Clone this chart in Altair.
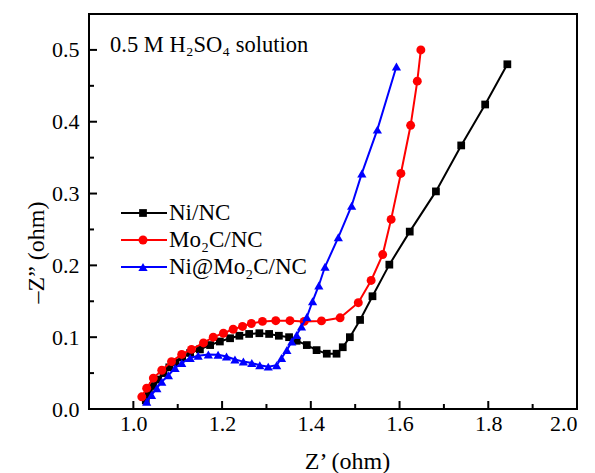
import altair as alt
import pandas as pd

# Nyquist data (Z' in ohm, -Z'' in ohm)
ni_x = [1.028, 1.035, 1.045, 1.056, 1.068, 1.081, 1.095, 1.110, 1.128, 1.150, 1.173, 1.195,
        1.218, 1.239, 1.261, 1.284, 1.306, 1.328, 1.351, 1.368, 1.391, 1.413, 1.436, 1.458,
        1.472, 1.488, 1.511, 1.539, 1.577, 1.623, 1.682, 1.739, 1.793, 1.843]
ni_y = [0.012, 0.022, 0.032, 0.041, 0.050, 0.058, 0.065, 0.072, 0.078, 0.083, 0.089, 0.094,
        0.0985, 0.102, 0.1045, 0.1055, 0.1045, 0.102, 0.100, 0.095, 0.089, 0.082, 0.077, 0.077,
        0.086, 0.100, 0.124, 0.157, 0.201, 0.247, 0.303, 0.367, 0.424, 0.480]

mo_x = [1.019, 1.030, 1.045, 1.064, 1.086, 1.109, 1.131, 1.158, 1.180, 1.203, 1.225, 1.246,
        1.266, 1.291, 1.321, 1.353, 1.385, 1.424, 1.466, 1.507, 1.536, 1.562, 1.581, 1.603,
        1.625, 1.640, 1.648]
mo_y = [0.017, 0.029, 0.043, 0.054, 0.066, 0.076, 0.083, 0.092, 0.100, 0.1055, 0.111, 0.115,
        0.119, 0.122, 0.123, 0.123, 0.122, 0.1227, 0.127, 0.148, 0.179, 0.215, 0.264, 0.328,
        0.395, 0.4565, 0.500]

nm_x = [1.030, 1.041, 1.053, 1.064, 1.079, 1.094, 1.109, 1.128, 1.146, 1.169, 1.191, 1.210,
        1.229, 1.248, 1.267, 1.285, 1.304, 1.323, 1.334, 1.346, 1.357, 1.368, 1.379, 1.391,
        1.404, 1.418, 1.432, 1.462, 1.492, 1.515, 1.550, 1.593]
nm_y = [0.010, 0.0195, 0.029, 0.038, 0.047, 0.057, 0.064, 0.071, 0.074, 0.076, 0.0755, 0.073,
        0.069, 0.066, 0.064, 0.061, 0.059, 0.061, 0.071, 0.082, 0.094, 0.103, 0.115, 0.128,
        0.150, 0.172, 0.198, 0.239, 0.283, 0.328, 0.389, 0.477]

series_names = ["Ni/NC", "Mo₂C/NC", "Ni@Mo₂C/NC"]
series_colors = ["#000000", "#ff0000", "#0000ff"]
series_shapes = ["square", "circle", "triangle-up"]
series_sizes = [60, 80, 85]

x_major = [1.0, 1.2, 1.4, 1.6, 1.8, 2.0]
x_minor = [1.1, 1.3, 1.5, 1.7, 1.9]
y_major = [0.0, 0.1, 0.2, 0.3, 0.4, 0.5]
y_minor = [0.05, 0.15, 0.25, 0.35, 0.45]

FONT = "Liberation Serif"
W, H = 488, 395

xs = [ni_x, mo_x, nm_x]
ys = [ni_y, mo_y, nm_y]

x_scale = alt.Scale(domain=[0.9, 2.0], nice=False, zero=False)
y_scale = alt.Scale(domain=[0.0, 0.55], nice=False, zero=False)

x_axis = alt.Axis(values=x_major, format=".1f", ticks=False, tickSize=0, domain=False, grid=False,
                  labelFont=FONT, labelFontSize=22, labelColor="#000", labelPadding=4,
                  title="Z’ (ohm)", titleFont=FONT, titleFontSize=24, titleFontWeight="normal",
                  titleColor="#000", titleX=258, titleY=52, titleBaseline="middle")
y_axis = alt.Axis(values=y_major, format=".1f", ticks=False, tickSize=0, domain=False, grid=False,
                  labelFont=FONT, labelFontSize=22, labelColor="#000", labelPadding=10,
                  title="–Z” (ohm)", titleFont=FONT, titleFontSize=24, titleFontWeight="normal",
                  titleColor="#000", titleAngle=270, titleX=-53, titleY=238,
                  titleBaseline="middle", titleAlign="center")

layers = []
for i, name in enumerate(series_names):
    df = pd.DataFrame({"x": xs[i], "y": ys[i], "i": list(range(len(xs[i])))})
    base = alt.Chart(df).encode(
        x=alt.X("x:Q", scale=x_scale, axis=x_axis),
        y=alt.Y("y:Q", scale=y_scale, axis=y_axis),
        order="i:Q",
    )
    layers.append(base.mark_line(color=series_colors[i], strokeWidth=2))
    layers.append(base.mark_point(shape=series_shapes[i], size=series_sizes[i], filled=True,
                                  color=series_colors[i], opacity=1))

# inward tick marks on bottom and left edges
def x_ticks(values, length):
    return alt.Chart(pd.DataFrame({"v": values})).mark_rule(color="#000", strokeWidth=2).encode(
        x=alt.X("v:Q", scale=x_scale), y=alt.value(H), y2=alt.value(H - length))

def y_ticks(values, length):
    return alt.Chart(pd.DataFrame({"v": values})).mark_rule(color="#000", strokeWidth=2).encode(
        y=alt.Y("v:Q", scale=y_scale), x=alt.value(0), x2=alt.value(length))

ticks = [x_ticks(x_major, 8), x_ticks(x_minor, 5), y_ticks(y_major, 8), y_ticks(y_minor, 5)]

# legend drawn as line + marker + label rows
legend = []
row_y = [199, 226, 253]
for i, name in enumerate(series_names):
    ldf = pd.DataFrame({"label": [name]})
    lc = alt.Chart(ldf)
    legend.append(lc.mark_rule(color=series_colors[i], strokeWidth=2).encode(
        x=alt.value(32), x2=alt.value(78), y=alt.value(row_y[i])))
    legend.append(lc.mark_point(shape=series_shapes[i], size=series_sizes[i], filled=True,
                                color=series_colors[i], opacity=1).encode(
        x=alt.value(54), y=alt.value(row_y[i])))
    legend.append(lc.mark_text(font=FONT, fontSize=23, align="left", baseline="middle",
                               color="#000").encode(
        x=alt.value(80), y=alt.value(row_y[i]), text="label:N"))

note = alt.Chart(pd.DataFrame({"t": ["0.5 M H₂SO₄ solution"]})).mark_text(
    font=FONT, fontSize=22.5, align="left", baseline="middle", color="#000").encode(
    x=alt.value(21), y=alt.value(31), text="t:N")

chart = alt.layer(*ticks, *layers, *legend, note).properties(
    width=W, height=H,
    autosize=alt.AutoSizeParams(type="none"),
    padding={"left": 89, "top": 14, "right": 18, "bottom": 64},
    background="white",
).configure_view(stroke="#000", strokeWidth=2)

chart.save("out.html", embed_options={"renderer": "svg", "actions": False})
